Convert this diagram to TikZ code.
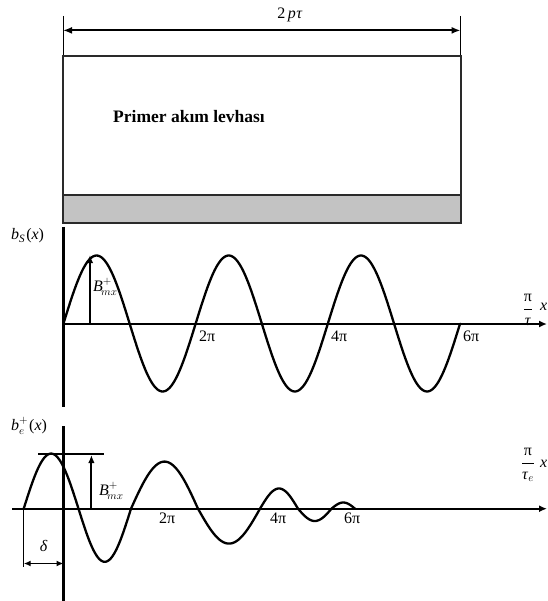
\documentclass[tikz,border=0pt]{standalone}
\usepackage{amsmath}
\usepackage{fontspec}
\setmainfont{Liberation Serif}
\usetikzlibrary{arrows.meta}
\definecolor{stripgray}{HTML}{C3C3C3}
\definecolor{edgegray}{HTML}{2A2A2A}
\begin{document}
\begin{tikzpicture}[x=1pt,y=-1pt,
  lab/.style={font=\fontsize{16}{19}\selectfont, inner sep=0pt},
  axisline/.style={line width=2.4pt},
  axisarrow/.style={line width=2.4pt,-{Latex[length=8pt,width=7pt]}},
  curve/.style={line width=2.3pt,line cap=round,line join=round},
  thinline/.style={line width=1pt},
  dimarrow/.style={line width=2.2pt,{Latex[length=9pt,width=7pt]}-{Latex[length=9pt,width=7pt]}},
  smallarrow/.style={line width=1.6pt,{Latex[length=7pt,width=6pt]}-{Latex[length=7pt,width=6pt]}},
  uparrow/.style={line width=1.9pt,-{Latex[length=8pt,width=6.5pt]}},
  plate/.style={draw=edgegray,line width=2pt}]
\useasboundingbox (0,0) rectangle (547,601);

% ---------- top: plate with dimension ----------
\coordinate (extLtop) at (63,16);
\coordinate (extLbot) at (63,56.5);
\coordinate (extRtop) at (460.6,16);
\coordinate (extRbot) at (460.6,56.5);
\draw[thinline] (extLtop) -- (extLbot);
\draw[thinline] (extRtop) -- (extRbot);
\coordinate (dimL) at (63,30.4);
\coordinate (dimR) at (460.6,30.4);
\draw[dimarrow] (dimL) -- (dimR);
\node[lab] (plen) at (290,15) {2\,\textit{p\kern0.5ptτ}};

\coordinate (stripTL) at (63,195.4);
\coordinate (stripBR) at (460.6,223);
\fill[stripgray] (stripTL) rectangle (stripBR);
\coordinate (plateTL) at (63,56.5);
\draw[plate] (plateTL) rectangle (stripBR);
\coordinate (stripTR) at (460.6,195.4);
\draw[plate] (stripTL) -- (stripTR);
\node[font=\fontsize{17.5}{20}\selectfont\bfseries, inner sep=0pt, anchor=west] (platetxt) at (113,117) {Primer akım levhası};

% ---------- middle graph ----------
\coordinate (o1) at (63.5,324);
\coordinate (y1top) at (63.5,227);
\coordinate (y1bot) at (63.5,406.7);
\coordinate (x1end) at (547,324);
\draw[axisline] (y1top) -- (y1bot);
\draw[axisarrow] (o1) -- (x1end);
\draw[curve] plot[domain=0:18.8496,samples=240] ({63.5+21.04*\x},{323.5-68*sin(\x r)});
\coordinate (b1foot) at (90,324);
\coordinate (b1tip) at (90,255);
\draw[uparrow] (b1foot) -- (b1tip);
\node[lab,anchor=west] (bs) at (11,236) {\textit{b}\textsubscript{\textit{S}}\kern1pt(\textit{x})};
\node[lab,anchor=west] (bm1) at (93,287) {\textit{B}$^{+}_{\mkern-3mu\scriptstyle mx}$};
\node[lab] (frac1) at (528,310) {$\dfrac{\text{π}}{\text{\textit{τ}}}$};
\node[lab,anchor=west] (xv1) at (540,307) {\textit{x}};
\node[lab,anchor=west] (m2pi) at (199,336) {2π};
\node[lab,anchor=west] (m4pi) at (331,336) {4π};
\node[lab,anchor=west] (m6pi) at (463,336) {6π};

% ---------- bottom graph ----------
\coordinate (o2) at (12,508.7);
\coordinate (y2top) at (63.5,426);
\coordinate (y2bot) at (63.5,603);
\coordinate (x2end) at (547,508.7);
\draw[axisline] (y2top) -- (y2bot);
\draw[axisarrow] (o2) -- (x2end);
\foreach \a/\b/\A in {23.7/78.5/55.1, 78.5/131/-53.1, 131/198/47.1, 198/260/-34.9, 260/298/20.2, 298/331.5/-12.3, 331.5/355/6.2}
  \draw[curve] plot[domain=0:180,samples=50] ({\a+(\b-\a)*\x/180},{508.7-\A*sin(\x)});
\coordinate (peakL) at (38,453.6);
\coordinate (peakR) at (104,453.6);
\draw[line width=1.9pt] (peakL) -- (peakR);
\coordinate (b2foot) at (91.4,508.7);
\coordinate (b2tip) at (91.4,455);
\draw[uparrow] (b2foot) -- (b2tip);
\node[lab,anchor=west] (be) at (11,426) {\textit{b}$^{+}_{\scriptstyle e}$\kern1pt(\textit{x})};
\node[lab,anchor=west] (bm2) at (99,491) {\textit{B}$^{+}_{\mkern-3mu\scriptstyle mx}$};
\node[lab] (frac2) at (528,465) {$\dfrac{\text{π}}{\text{\textit{τ}}_{e}}$};
\node[lab,anchor=west] (xv2) at (540,464) {\textit{x}};
\node[lab,anchor=west] (b2pi) at (159,518) {2π};
\node[lab,anchor=west] (b4pi) at (270,518) {4π};
\node[lab,anchor=west] (b6pi) at (344,518) {6π};

% delta
\coordinate (dtop) at (23.7,508.7);
\coordinate (dbot) at (23.7,567);
\draw[thinline] (dtop) -- (dbot);
\coordinate (dL) at (23.7,563.5);
\coordinate (dR) at (63.5,563.5);
\draw[smallarrow] (dL) -- (dR);
\node[lab] (delta) at (43.6,546) {\textit{δ}};
\end{tikzpicture}
\end{document}
